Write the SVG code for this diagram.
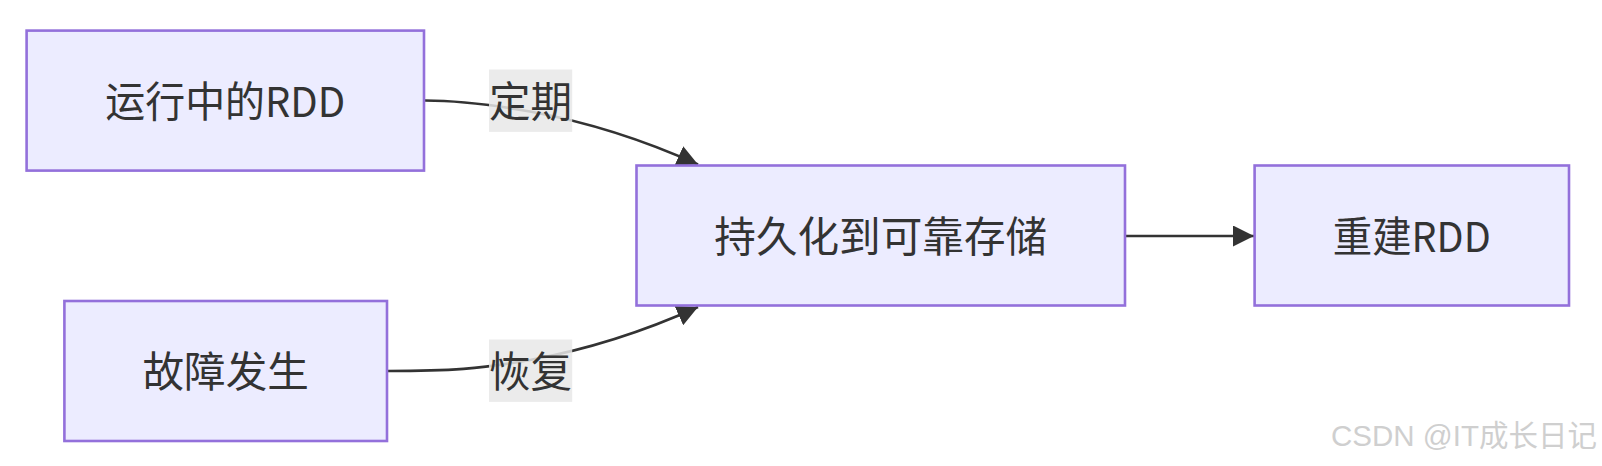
<svg xmlns="http://www.w3.org/2000/svg" width="1602" height="466" viewBox="0 0 1602 466">
<style>
.node rect{fill:#ECECFF;stroke:#9370DB;stroke-width:2.6}
.node text,.lbl text{font-family:"Noto Sans CJK SC","Liberation Sans",sans-serif;font-size:41.6px;fill:#333;text-anchor:middle}
.edge{fill:none;stroke:#333;stroke-width:2.6}
.lbl rect{fill:#e8e8e8;opacity:0.85}
.wm{font-family:"Liberation Sans","Noto Sans CJK SC",sans-serif;font-size:29.5px;fill:#cfcfcf}
</style>
<defs>
<marker id="arrow" viewBox="0 0 10 10" refX="10" refY="5" markerUnits="userSpaceOnUse" markerWidth="21" markerHeight="21" orient="auto">
<path d="M0,0 L10,5 L0,10 z" fill="#333"/>
</marker>
</defs>
<rect width="1602" height="466" fill="#fff"/>
<g id="connectors">
<path class="edge" d="M425,100.5 C450,100.5 480,102.5 530,111.5 C590,122.5 645,140.5 698,164.5" marker-end="url(#arrow)"/>
<path class="edge" d="M388,371 C450,371 480,369 530,360 C590,349 645,331 698,307" marker-end="url(#arrow)"/>
<path class="edge" d="M1126,236 L1254,236" marker-end="url(#arrow)"/>
</g>
<g id="labels">
<g class="lbl" id="label-dingqi"><rect x="489" y="69.5" width="83.2" height="62.4"/><text x="530.6" y="117">定期</text></g>
<g class="lbl" id="label-huifu"><rect x="489" y="339.5" width="83.2" height="62.4"/><text x="530.6" y="387">恢复</text></g>
</g>
<g class="node" id="node-running"><rect x="26.6" y="30.6" width="397.4" height="140"/><text x="225.3" y="116.5" textLength="240" lengthAdjust="spacingAndGlyphs">运行中的RDD</text></g>
<g class="node" id="node-failure"><rect x="64.4" y="301" width="322.6" height="140"/><text x="225.7" y="387">故障发生</text></g>
<g class="node" id="node-persist"><rect x="636.5" y="165.5" width="488.5" height="140"/><text x="880.7" y="251.5">持久化到可靠存储</text></g>
<g class="node" id="node-rebuild"><rect x="1254.6" y="165.5" width="314.4" height="140"/><text x="1411.8" y="251.5" textLength="158" lengthAdjust="spacingAndGlyphs">重建RDD</text></g>
<text class="wm" x="1331" y="446">CSDN @IT成长日记</text>
</svg>
